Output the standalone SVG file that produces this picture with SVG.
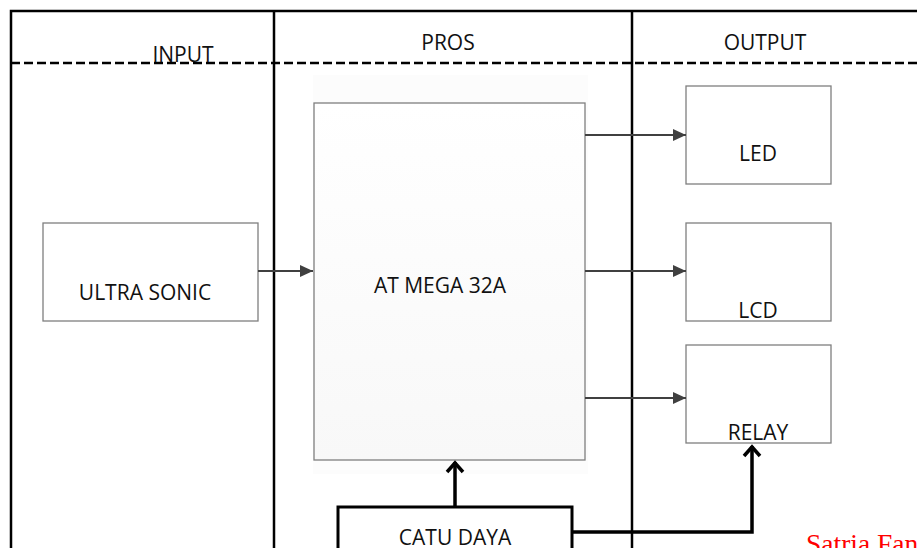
<svg xmlns="http://www.w3.org/2000/svg" width="917" height="548" viewBox="0 0 917 548">
<style>
.t{font-family:"Open Sans","Liberation Sans",Arial,sans-serif;font-size:21px;fill:#111;text-anchor:middle}
.box{fill:#fff;stroke:#7f7f7f;stroke-width:1.3}
.lane{stroke:#000;stroke-width:2.5;fill:none}
.arr{stroke:#404040;stroke-width:2;fill:none}
.pw{stroke:#000;stroke-width:3.5;fill:none}
</style>
<defs>
<marker id="tri" markerWidth="13" markerHeight="12" refX="13" refY="6" orient="auto" markerUnits="userSpaceOnUse" viewBox="0 0 13 12">
<path d="M0,0 L13,6 L0,12 Z" fill="#404040"/>
</marker>
<marker id="chev" markerWidth="20" markerHeight="20" refX="18" refY="10" orient="auto" markerUnits="userSpaceOnUse" viewBox="0 0 20 20">
<path d="M8,2 L17,10 L8,18" fill="none" stroke="#000" stroke-width="3.5"/>
</marker>
<linearGradient id="g" x1="0" y1="0" x2="0" y2="1">
<stop offset="0" stop-color="#ffffff"/>
<stop offset="1" stop-color="#f8f8f8"/>
</linearGradient>
</defs>
<rect width="917" height="548" fill="#fff"/>
<g id="lanes">
<path class="lane" d="M11,548 V11 H917 M274,11 V548 M632,11 V548"/>
<line x1="11" y1="63" x2="917" y2="63" stroke="#000" stroke-width="2.3" stroke-dasharray="9,4"/>
<text class="t" x="183" y="62">INPUT</text>
<text class="t" x="448" y="50">PROS</text>
<text class="t" x="765" y="50">OUTPUT</text>
</g>
<g id="ultrasonic">
<rect class="box" x="43" y="223" width="215" height="98"/>
<text class="t" x="145" y="300">ULTRA SONIC</text>
</g>
<g id="atmega">
<rect x="313" y="75" width="275" height="399" fill="#fcfcfc"/>
<rect x="314" y="103" width="271" height="357" fill="url(#g)" stroke="#7f7f7f" stroke-width="1.3"/>
<text class="t" x="440" y="293">AT MEGA 32A</text>
</g>
<g id="led">
<rect class="box" x="686" y="86" width="145" height="98"/>
<text class="t" x="758" y="161">LED</text>
</g>
<g id="lcd">
<rect class="box" x="686" y="223" width="145" height="98"/>
<text class="t" x="758" y="318">LCD</text>
</g>
<g id="relay">
<rect class="box" x="686" y="345" width="145" height="98"/>
<text class="t" x="758" y="440">RELAY</text>
</g>
<g id="catudaya">
<rect x="338" y="507" width="234" height="50" fill="#fff" stroke="#000" stroke-width="3"/>
<text class="t" x="455" y="545">CATU DAYA</text>
</g>
<g id="connectors">
<line class="arr" x1="258" y1="271" x2="313" y2="271" marker-end="url(#tri)"/>
<line class="arr" x1="585" y1="135" x2="686" y2="135" marker-end="url(#tri)"/>
<line class="arr" x1="585" y1="271" x2="686" y2="271" marker-end="url(#tri)"/>
<line class="arr" x1="585" y1="398" x2="686" y2="398" marker-end="url(#tri)"/>
<path class="pw" d="M455,506 V462" marker-end="url(#chev)"/>
<path class="pw" d="M572,532 H752 V446" marker-end="url(#chev)"/>
</g>
<text x="806" y="553" font-family="'Liberation Serif','Times New Roman',serif" font-size="27.5" fill="#ff0000">Satria Fan</text>
</svg>
